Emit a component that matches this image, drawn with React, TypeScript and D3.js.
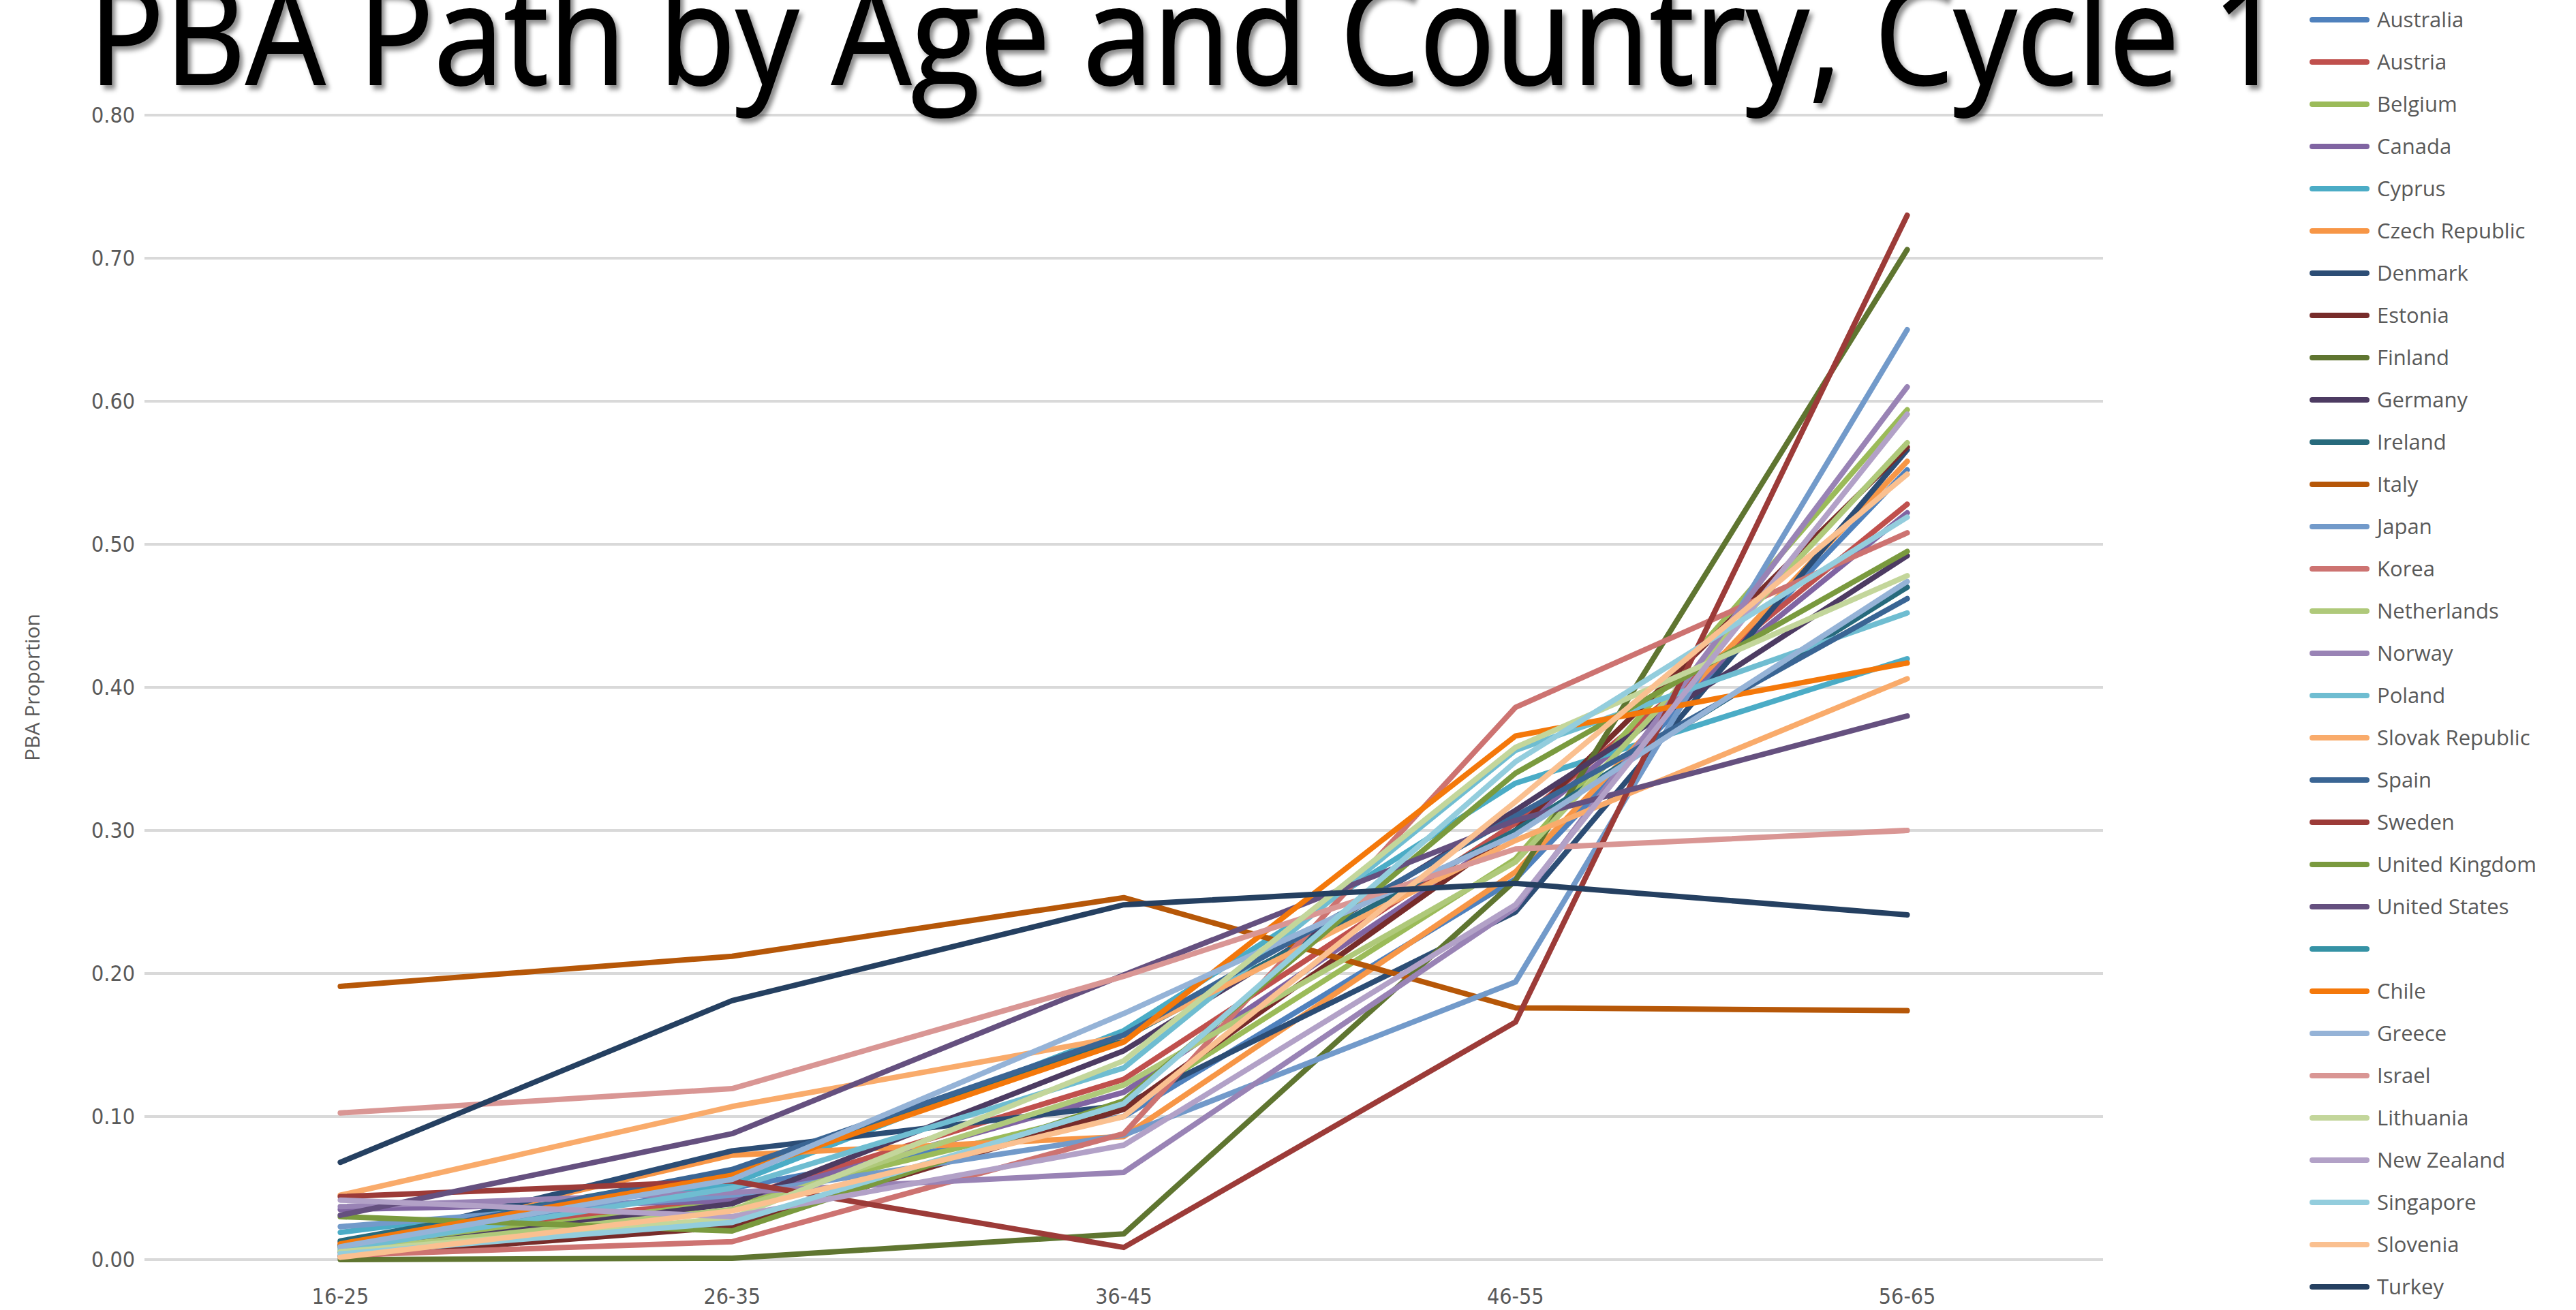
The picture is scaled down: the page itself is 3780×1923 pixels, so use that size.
import React, { useEffect, useRef } from 'react';
import * as d3 from 'd3';

const ageGroups = ['16-25', '26-35', '36-45', '46-55', '56-65'];
const yTicks = [0, 0.1, 0.2, 0.3, 0.4, 0.5, 0.6, 0.7, 0.8];

const countries = [
  'Australia', 'Austria', 'Belgium', 'Canada', 'Cyprus', 'Czech Republic', 'Denmark', 'Estonia',
  'Finland', 'Germany', 'Ireland', 'Italy', 'Japan', 'Korea', 'Netherlands', 'Norway', 'Poland',
  'Slovak Republic', 'Spain', 'Sweden', 'United Kingdom', 'United States', '', 'Chile', 'Greece',
  'Israel', 'Lithuania', 'New Zealand', 'Singapore', 'Slovenia', 'Turkey',
];

const colors = [
  '#4F81BD', '#C0504D', '#9BBB59', '#8064A2', '#4BACC6', '#F79646', '#2C4D75', '#772C2A',
  '#5F7530', '#4D3B62', '#276A7C', '#B65708', '#729ACA', '#CD7371', '#AFC97A', '#9983B5', '#6FBDD1',
  '#F9AB6B', '#3A6594', '#9C3B38', '#7A9A3E', '#65507F', '#3592A5', '#F4780A', '#95B3D7',
  '#D99694', '#C3D69B', '#B2A1C7', '#93CDDD', '#FAC090', '#254061',
];

// values per country, one per age group (null = no data)
const values: (number[] | null)[] = [
  [0.010, 0.050, 0.100, 0.266, 0.552], // Australia
  [0.012, 0.042, 0.126, 0.305, 0.528], // Austria
  [0.008, 0.040, 0.106, 0.280, 0.594], // Belgium
  [0.035, 0.041, 0.117, 0.300, 0.522], // Canada
  [0.019, 0.053, 0.160, 0.333, 0.420], // Cyprus
  [0.010, 0.073, 0.086, 0.271, 0.558], // Czech Republic
  [0.009, 0.076, 0.108, 0.243, 0.566], // Denmark
  [0.002, 0.023, 0.105, 0.300, 0.568], // Estonia
  [0.000, 0.001, 0.018, 0.265, 0.706], // Finland
  [0.005, 0.039, 0.146, 0.314, 0.492], // Germany
  [0.013, 0.062, 0.155, 0.300, 0.470], // Ireland
  [0.191, 0.212, 0.253, 0.176, 0.174], // Italy
  [0.023, 0.045, 0.087, 0.194, 0.650], // Japan
  [0.003, 0.0125, 0.088, 0.386, 0.508], // Korea
  [0.006, 0.035, 0.122, 0.278, 0.571], // Netherlands
  [0.037, 0.047, 0.061, 0.246, 0.610], // Norway
  [0.007, 0.050, 0.134, 0.356, 0.452], // Poland
  [0.045, 0.107, 0.156, 0.293, 0.406], // Slovak Republic
  [0.010, 0.063, 0.157, 0.310, 0.462], // Spain
  [0.044, 0.055, 0.0085, 0.166, 0.730], // Sweden
  [0.030, 0.020, 0.111, 0.340, 0.495], // United Kingdom
  [0.031, 0.088, 0.199, 0.307, 0.380], // United States
  null, // (blank)
  [0.011, 0.059, 0.152, 0.366, 0.417], // Chile
  [0.009, 0.056, 0.172, 0.297, 0.474], // Greece
  [0.1025, 0.1195, 0.198, 0.287, 0.300], // Israel
  [0.0055, 0.029, 0.139, 0.358, 0.478], // Lithuania
  [0.0416, 0.030, 0.080, 0.248, 0.591], // New Zealand
  [0.004, 0.026, 0.109, 0.348, 0.519], // Singapore
  [0.0016, 0.034, 0.100, 0.320, 0.549], // Slovenia
  [0.068, 0.181, 0.248, 0.263, 0.241], // Turkey
];

const W = 3780;
const H = 1923;

const App: React.FC = () => {
  const svgRef = useRef<SVGSVGElement>(null);

  useEffect(() => {
    if (!svgRef.current) return;
    const svg = d3.select(svgRef.current);
    svg.selectAll('*').remove();

    const plot = { left: 212, right: 3086, top: 169, bottom: 1849 };

    const x = d3.scalePoint<string>().domain(ageGroups).range([plot.left, plot.right]).padding(0.5);
    const y = d3.scaleLinear().domain([0, 0.8]).range([plot.bottom, plot.top]);

    const defs = svg.append('defs');
    defs
      .append('filter')
      .attr('id', 'shadow')
      .attr('x', '-5%')
      .attr('y', '-20%')
      .attr('width', '110%')
      .attr('height', '140%')
      .append('feDropShadow')
      .attr('dx', 5)
      .attr('dy', 5)
      .attr('stdDeviation', 3)
      .attr('flood-color', '#000')
      .attr('flood-opacity', 0.45);

    // gridlines
    svg
      .append('g')
      .selectAll('line')
      .data(yTicks)
      .join('line')
      .attr('x1', plot.left)
      .attr('x2', plot.right)
      .attr('y1', (d) => y(d))
      .attr('y2', (d) => y(d))
      .attr('stroke', '#D9D9D9')
      .attr('stroke-width', 4);

    const tickFont = '"Liberation Sans Narrow", "DejaVu Sans Condensed", "Open Sans", sans-serif';

    svg
      .append('g')
      .selectAll('text')
      .data(yTicks)
      .join('text')
      .attr('x', 198)
      .attr('y', (d) => y(d))
      .attr('dy', '0.35em')
      .attr('text-anchor', 'end')
      .attr('font-family', tickFont)
      .attr('font-size', 32)
      .attr('fill', '#595959')
      .text((d) => d3.format('.2f')(d));

    svg
      .append('g')
      .selectAll('text')
      .data(ageGroups)
      .join('text')
      .attr('x', (d) => x(d)!)
      .attr('y', 1914)
      .attr('text-anchor', 'middle')
      .attr('font-family', tickFont)
      .attr('font-size', 32)
      .attr('fill', '#595959')
      .text((d) => d);

    svg
      .append('text')
      .attr('transform', `translate(58, ${(plot.top + plot.bottom) / 2}) rotate(-90)`)
      .attr('text-anchor', 'middle')
      .attr('font-family', '"Open Sans", sans-serif')
      .attr('font-size', 30)
      .attr('fill', '#595959')
      .text('PBA Proportion');

    const line = d3
      .line<number>()
      .x((_, i) => x(ageGroups[i])!)
      .y((d) => y(d));

    values.forEach((vals, i) => {
      if (!vals) return;
      svg
        .append('path')
        .datum(vals)
        .attr('fill', 'none')
        .attr('stroke', colors[i])
        .attr('stroke-width', 8)
        .attr('stroke-linecap', 'round')
        .attr('stroke-linejoin', 'round')
        .attr('d', line);
    });

    // legend
    const legend = svg.append('g');
    countries.forEach((name, i) => {
      const ly = 29 + i * 62;
      legend
        .append('line')
        .attr('x1', 3393)
        .attr('x2', 3473)
        .attr('y1', ly)
        .attr('y2', ly)
        .attr('stroke', colors[i])
        .attr('stroke-width', 8)
        .attr('stroke-linecap', 'round');
      legend
        .append('text')
        .attr('x', 3488)
        .attr('y', ly)
        .attr('dy', '0.36em')
        .attr('font-family', '"Open Sans", sans-serif')
        .attr('font-size', 31)
        .attr('fill', '#595959')
        .text(name);
    });

    // title: narrow natural width, stretched vertically like the condensed original face
    const titleScaleY = 1.25;
    svg
      .append('g')
      .attr('transform', `translate(130, 124) scale(1, ${titleScaleY})`)
      .append('text')
      .attr('x', 0)
      .attr('y', 0)
      .attr('font-family', '"Open Sans", sans-serif')
      .attr('font-size', 163)
      .attr('fill', '#000')
      .attr('stroke', '#000')
      .attr('stroke-width', 1.5)
      .attr('textLength', 3222)
      .attr('lengthAdjust', 'spacingAndGlyphs')
      .attr('filter', 'url(#shadow)')
      .text('PBA Path by Age and Country, Cycle 1');
  }, []);

  return (
    <div style={{ position: 'absolute', left: 0, top: 0, width: W, height: H, background: '#fff' }}>
      <svg ref={svgRef} width={W} height={H} style={{ display: 'block' }}></svg>
    </div>
  );
};

export default App;
